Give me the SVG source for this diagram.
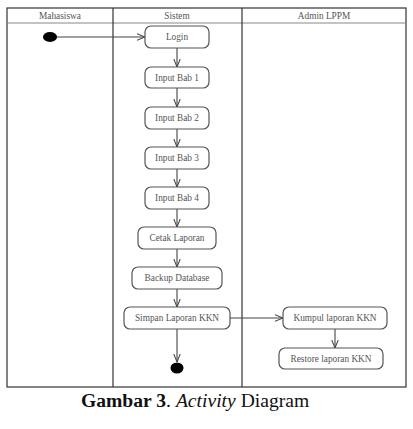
<svg xmlns="http://www.w3.org/2000/svg" width="413" height="429" viewBox="0 0 413 429">
<style>
.lane{fill:none;stroke:#333;stroke-width:1.2}
.hdr{stroke:#888;stroke-width:1}
.node rect{fill:#fff;stroke:#555;stroke-width:1.2}
.t{font-family:"Liberation Serif","Times New Roman",serif;font-size:9.3px;fill:#555;text-anchor:middle}
.c{fill:none;stroke:#444;stroke-width:1.1;marker-end:url(#arr)}
.cap{font-family:"Liberation Serif","Times New Roman",serif;font-size:19.6px;fill:#111}
</style>
<defs>
<marker id="arr" viewBox="0 0 10 10" refX="10" refY="5" markerWidth="8" markerHeight="8" markerUnits="userSpaceOnUse" orient="auto">
<path d="M0,1 L10,5 L0,9" fill="none" stroke="#444" stroke-width="1.3"/>
</marker>
</defs>
<rect width="413" height="429" fill="#fff"/>
<g id="swimlanes">
<rect class="lane" x="7" y="8" width="399" height="379"/>
<line class="hdr" x1="7" y1="23" x2="406" y2="23"/>
<line class="lane" x1="113" y1="8" x2="113" y2="387"/>
<line class="lane" x1="242" y1="8" x2="242" y2="387"/>
<text class="t" x="60" y="18.5">Mahasiswa</text>
<text class="t" x="177" y="18.5">Sistem</text>
<text class="t" x="324" y="18.5">Admin LPPM</text>
</g>
<g id="connectors">
<line class="c" x1="56" y1="37" x2="145" y2="37"/>
<line class="c" x1="177" y1="48" x2="177" y2="67"/>
<line class="c" x1="177" y1="88" x2="177" y2="107"/>
<line class="c" x1="177" y1="129" x2="177" y2="147"/>
<line class="c" x1="177" y1="169" x2="177" y2="187"/>
<line class="c" x1="177" y1="209" x2="177" y2="227"/>
<line class="c" x1="177" y1="249" x2="177" y2="267"/>
<line class="c" x1="177" y1="289" x2="177" y2="307"/>
<line class="c" x1="177" y1="329" x2="177" y2="362"/>
<line class="c" x1="230" y1="318" x2="283" y2="318"/>
<line class="c" x1="335" y1="329" x2="335" y2="348"/>
</g>
<g id="start"><ellipse cx="50" cy="37" rx="7" ry="5" fill="#000"/></g>
<g id="login" class="node"><rect x="145" y="26" width="64" height="22" rx="6"/><text class="t" x="177" y="40">Login</text></g>
<g id="bab1" class="node"><rect x="145" y="67" width="64" height="21" rx="6"/><text class="t" x="177" y="80.5">Input Bab 1</text></g>
<g id="bab2" class="node"><rect x="145" y="107" width="64" height="22" rx="6"/><text class="t" x="177" y="121">Input Bab 2</text></g>
<g id="bab3" class="node"><rect x="145" y="147" width="64" height="22" rx="6"/><text class="t" x="177" y="161">Input Bab 3</text></g>
<g id="bab4" class="node"><rect x="145" y="187" width="64" height="22" rx="6"/><text class="t" x="177" y="201">Input Bab 4</text></g>
<g id="cetak" class="node"><rect x="138" y="227" width="78" height="22" rx="6"/><text class="t" x="177" y="241">Cetak Laporan</text></g>
<g id="backup" class="node"><rect x="132" y="267" width="90" height="22" rx="6"/><text class="t" x="177" y="281">Backup Database</text></g>
<g id="simpan" class="node"><rect x="124" y="307" width="106" height="22" rx="6"/><text class="t" x="177" y="321">Simpan Laporan KKN</text></g>
<g id="kumpul" class="node"><rect x="283" y="307" width="104" height="22" rx="6"/><text class="t" x="335" y="321">Kumpul laporan KKN</text></g>
<g id="restore" class="node"><rect x="279" y="348" width="104" height="21" rx="6"/><text class="t" x="331" y="361.5">Restore laporan KKN</text></g>
<g id="end"><ellipse cx="177" cy="368" rx="6.5" ry="5.5" fill="#000"/></g>
<text class="cap" x="81" y="407"><tspan font-weight="bold">Gambar 3</tspan>. <tspan font-style="italic">Activity</tspan> Diagram</text>
</svg>
